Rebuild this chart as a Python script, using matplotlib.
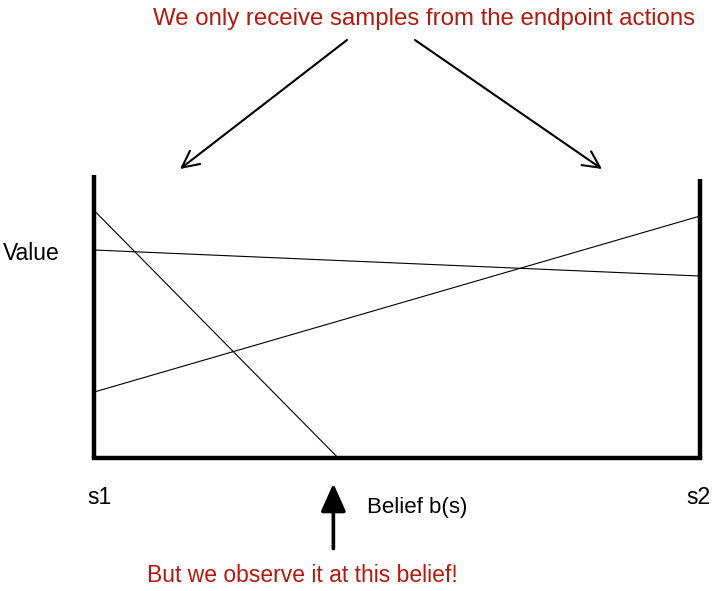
import matplotlib
matplotlib.use("Agg")
import matplotlib.pyplot as plt
from matplotlib.patches import FancyArrowPatch

plt.rcParams['font.family'] = ['Liberation Sans', 'DejaVu Sans']

# Belief positions (0 = s1, 1 = s2) and values of the alpha-vector lines
line1_x = [0.0, 0.403]
line1_y = [0.875, 0.0]
line2_x = [0.0, 1.0]
line2_y = [0.735, 0.643]
line3_x = [0.0, 1.0]
line3_y = [0.233, 0.855]

title_text = "We only receive samples from the endpoint actions"
bottom_text = "But we observe it at this belief!"
ylabel = "Value"
xlabel = "Belief b(s)"
left_label = "s1"
right_label = "s2"
observed_belief = 0.395

W, H = 718, 591
fig = plt.figure(figsize=(W / 100, H / 100), dpi=100)
ax = fig.add_axes([94 / W, (H - 458) / H, (700 - 94) / W, (458 - 175) / H])
ax.set_xlim(0, 1)
ax.set_ylim(0, 1)
ax.axis('off')

# Frame (left, bottom, right)
ax.plot([0, 0], [0, 1.0], color='black', lw=3.2, clip_on=False, solid_capstyle='butt')
ax.plot([1, 1], [0, 0.986], color='black', lw=3.2, clip_on=False, solid_capstyle='butt')
ax.plot([0, 1], [0, 0], color='black', lw=3.2, clip_on=False, solid_capstyle='projecting')

for xs, ys in [(line1_x, line1_y), (line2_x, line2_y), (line3_x, line3_y)]:
    ax.plot(xs, ys, color='black', lw=0.8, clip_on=False)

red = '#b2190f'

def fx(px):
    return px / W

def fy(py):
    return 1 - py / H

fig.text(fx(424), fy(19), title_text, color=red, fontsize=17.3, ha='center', va='center')
fig.text(fx(302), fy(576), bottom_text, color=red, fontsize=16.5, ha='center', va='center')
fig.text(fx(3), fy(253), ylabel, fontsize=16.5, ha='left', va='center')
fig.text(fx(417), fy(508), xlabel, fontsize=16, ha='center', va='center')
fig.text(fx(99), fy(497), left_label, fontsize=16.5, ha='center', va='center')
fig.text(fx(698), fy(497), right_label, fontsize=16.5, ha='center', va='center')

# Arrows from title to endpoints
arrow_kw = dict(arrowstyle='->,head_length=0.6,head_width=0.3', color='black', lw=1.5,
                shrinkA=0, shrinkB=0, mutation_scale=20, transform=fig.transFigure)
fig.add_artist(FancyArrowPatch((fx(347), fy(40)), (fx(180), fy(169)), **arrow_kw))
fig.add_artist(FancyArrowPatch((fx(415), fy(40)), (fx(602), fy(169)), **arrow_kw))

# Upward arrow at the observed belief
ax.annotate('', xy=(observed_belief, -0.09), xytext=(observed_belief, -0.32),
            xycoords='data', textcoords='data', annotation_clip=False,
            arrowprops=dict(arrowstyle='-|>,head_length=0.85,head_width=0.38',
                            mutation_scale=20, color='black', lw=2.6,
                            shrinkA=0, shrinkB=0))

fig.savefig('out.png', dpi=100)
